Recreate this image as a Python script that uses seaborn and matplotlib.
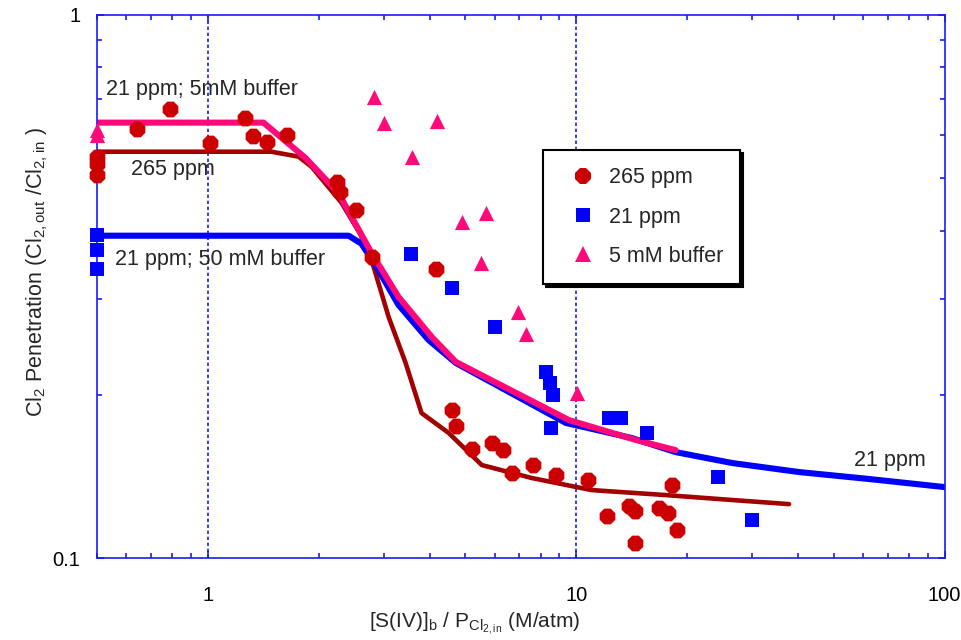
import matplotlib
matplotlib.use("Agg")
import matplotlib.pyplot as plt
import seaborn as sns
import pandas as pd
from matplotlib.lines import Line2D
from matplotlib.ticker import FixedLocator, FixedFormatter, LogLocator, NullFormatter

# ---------------- data ----------------
ppm265_x = [0.5, 0.5, 0.5, 0.643, 0.791, 1.016, 1.264, 1.329, 1.442, 1.644,
            2.235, 2.29, 2.516, 2.782, 4.15, 4.59, 4.71, 5.20, 5.89, 6.31,
            6.68, 7.62, 8.80, 10.74, 12.1, 13.9, 14.4, 14.4, 16.76, 17.74,
            18.2, 18.76]
ppm265_y = [0.548, 0.532, 0.508, 0.617, 0.671, 0.581, 0.646, 0.599, 0.583, 0.601,
            0.4925, 0.472, 0.4375, 0.358, 0.3405, 0.1874, 0.175, 0.1588, 0.163, 0.158,
            0.1434, 0.1483, 0.142, 0.139, 0.1195, 0.1247, 0.122, 0.1066, 0.1236, 0.121,
            0.1363, 0.1126]

ppm21_x = [0.5, 0.5, 0.5, 3.55, 4.59, 6.01, 8.26, 8.47, 8.63, 8.52,
           12.25, 13.2, 15.6, 24.3, 30.0]
ppm21_y = [0.394, 0.369, 0.340, 0.363, 0.314, 0.266, 0.220, 0.210, 0.1996, 0.1735,
           0.181, 0.181, 0.170, 0.141, 0.1175]

buf5_x = [0.5, 0.5, 2.83, 3.0, 4.18, 3.57, 4.89, 5.69, 5.50, 6.93, 7.29, 10.03]
buf5_y = [0.614, 0.601, 0.706, 0.633, 0.638, 0.548, 0.416, 0.432, 0.3494, 0.284,
          0.2586, 0.2014]

# model curves
line265_x = [0.5, 1.488, 1.762, 1.911, 2.306, 2.597, 2.817, 3.094, 3.44, 3.80,
             4.50, 5.54, 7.57, 11.0, 17.5, 26.5, 37.8]
line265_y = [0.5596, 0.5596, 0.548, 0.525, 0.4505, 0.3935, 0.3435, 0.2778, 0.2287, 0.1849,
             0.170, 0.1483, 0.1404, 0.1334, 0.1306, 0.1279, 0.1257]

line50_x = [0.5, 2.41, 2.61, 2.85, 3.29, 3.97, 4.71, 9.37, 14.15, 18.6, 26.5, 40.2, 62.4, 100]
line50_y = [0.392, 0.392, 0.379, 0.3464, 0.2924, 0.252, 0.2286, 0.1773, 0.1663, 0.1567,
            0.1496, 0.144, 0.1398, 0.1351]

line5_x = [0.5, 1.415, 1.84, 2.26, 2.78, 3.29, 4.05, 4.71, 9.54, 14.5, 18.6]
line5_y = [0.633, 0.633, 0.545, 0.470, 0.3645, 0.3026, 0.2553, 0.2296, 0.1795, 0.165, 0.158]

legend_labels = ["265 ppm", "21 ppm", "5 mM buffer"]
x_ticks = [1, 10, 100]
x_tick_labels = ["1", "10", "100"]
y_ticks = [0.1, 1]
y_tick_labels = ["0.1", "1"]

# ---------------- style ----------------
sns.set_theme(style="white")
plt.rcParams["font.family"] = ["Liberation Sans", "DejaVu Sans"]
plt.rcParams["mathtext.default"] = "regular"

RED = "#CC0000"
DARKRED = "#A30000"
BLUE = "#0000FF"
PINK = "#FF0A78"
AXBLUE = "#1A1AFF"

fig = plt.figure(figsize=(9.61, 6.40), dpi=100)
ax = fig.add_axes([0.101, 0.128, 0.882, 0.849])
ax.set_xscale("log")
ax.set_yscale("log")
ax.set_xlim(0.5, 100)
ax.set_ylim(0.1, 1)

# grid (vertical dotted at decades)
for gx in [1, 10]:
    ax.axvline(gx, color=AXBLUE, lw=1.2, ls=(0, (2, 1.6)), zorder=1)

# lines
df265 = pd.DataFrame({"x": line265_x, "y": line265_y})
df50 = pd.DataFrame({"x": line50_x, "y": line50_y})
df5 = pd.DataFrame({"x": line5_x, "y": line5_y})
sns.lineplot(data=df265, x="x", y="y", ax=ax, color=DARKRED, lw=3.3, sort=False,
             estimator=None, zorder=2)
sns.lineplot(data=df50, x="x", y="y", ax=ax, color=BLUE, lw=4.4, sort=False,
             estimator=None, zorder=2.1)
sns.lineplot(data=df5, x="x", y="y", ax=ax, color=PINK, lw=4.4, sort=False,
             estimator=None, zorder=2.2)

# markers
sns.scatterplot(x=ppm265_x, y=ppm265_y, ax=ax, marker="8", s=150, color=RED,
                edgecolor=RED, linewidth=0, zorder=3, clip_on=False)
sns.scatterplot(x=ppm21_x, y=ppm21_y, ax=ax, marker="s", s=100, color=BLUE,
                edgecolor=BLUE, linewidth=0, zorder=3, clip_on=False)
sns.scatterplot(x=buf5_x, y=buf5_y, ax=ax, marker="^", s=120, color=PINK,
                edgecolor=PINK, linewidth=0, zorder=3, clip_on=False)

# annotations
fs = 15.5
ax.text(0.53, 0.727, "21 ppm; 5mM buffer", fontsize=fs, ha="left", va="center", zorder=4)
ax.text(0.62, 0.518, "265 ppm", fontsize=fs, ha="left", va="center", zorder=4)
ax.text(0.561, 0.355, "21 ppm; 50 mM buffer", fontsize=fs, ha="left", va="center", zorder=4)
ax.text(56.8, 0.1515, "21 ppm", fontsize=fs, ha="left", va="center", zorder=4)

# axes styling
for sp in ax.spines.values():
    sp.set_color(AXBLUE)
    sp.set_linewidth(1.2)
    sp.set_visible(True)

ax.xaxis.set_major_locator(FixedLocator(x_ticks))
ax.xaxis.set_major_formatter(FixedFormatter(x_tick_labels))
ax.xaxis.set_minor_locator(LogLocator(base=10, subs=range(2, 10), numticks=20))
ax.xaxis.set_minor_formatter(NullFormatter())
ax.yaxis.set_major_locator(FixedLocator(y_ticks))
ax.yaxis.set_major_formatter(FixedFormatter(y_tick_labels))
ax.yaxis.set_minor_locator(LogLocator(base=10, subs=range(2, 10), numticks=20))
ax.yaxis.set_minor_formatter(NullFormatter())

ax.tick_params(which="both", direction="in", top=True, right=True, bottom=True, left=True,
               color=AXBLUE, width=1.2)
ax.tick_params(which="major", length=5)
ax.tick_params(which="minor", length=3.5)
ax.tick_params(axis="x", which="major", pad=20, labelsize=14.5, labelcolor="black")
ax.tick_params(axis="y", which="major", pad=12, labelsize=14.5, labelcolor="black")

ax.set_xlabel(r"[S(IV)]$_b$ / P$_{Cl_{2,in}}$ (M/atm)", fontsize=15)
ax.set_ylabel(r"Cl$_2$ Penetration (Cl$_{2,out}$ /Cl$_{2,in}$ )", fontsize=15.5)
ax.xaxis.set_label_coords(0.446, -0.098)
ax.yaxis.set_label_coords(-0.056, 0.527)

# legend
handles = [
    Line2D([], [], marker="8", color=RED, ls="none", markersize=12.5, markeredgewidth=0),
    Line2D([], [], marker="s", color=BLUE, ls="none", markersize=10.5, markeredgewidth=0),
    Line2D([], [], marker="^", color=PINK, ls="none", markersize=11, markeredgewidth=0),
]
leg = ax.legend(handles, legend_labels, loc="upper left", bbox_to_anchor=(0.526, 0.751),
                borderaxespad=0, fontsize=15.5, frameon=True, fancybox=False,
                framealpha=1, edgecolor="black", numpoints=1,
                handlelength=2.1, handletextpad=0.15, labelspacing=0.85,
                borderpad=0.8, shadow={"color": "black", "alpha": 1})
leg.get_frame().set_linewidth(1.5)
leg.set_zorder(5)

fig.savefig("out.png", dpi=100)
